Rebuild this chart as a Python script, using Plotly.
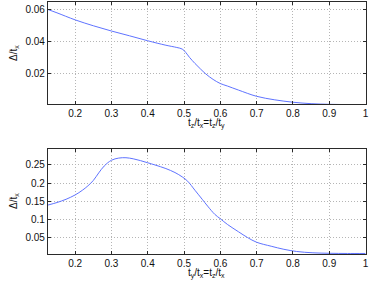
import plotly.graph_objects as go

# Top panel: Delta/t_x vs t_z/t_x = t_z/t_y
x_top = [0.125, 0.15, 0.2, 0.25, 0.3, 0.35, 0.4, 0.45, 0.48, 0.495, 0.505, 0.515, 0.53,
         0.545, 0.56, 0.58, 0.6, 0.62, 0.65, 0.7, 0.75, 0.8, 0.85, 0.9, 0.95, 1.0]
y_top = [0.0600, 0.0579, 0.0535, 0.0498, 0.0465, 0.0435, 0.0404, 0.0376, 0.0362, 0.0352,
         0.0330, 0.0300, 0.0262, 0.0228, 0.0196, 0.0162, 0.0136, 0.0120, 0.0095, 0.0056,
         0.0034, 0.0019, 0.0010, 0.0006, 0.0004, 0.0003]

# Bottom panel: Delta/t_x vs t_y/t_x = t_z/t_x
x_bot = [0.125, 0.15, 0.175, 0.2, 0.22, 0.235, 0.25, 0.265, 0.28, 0.3, 0.32, 0.34, 0.36,
         0.38, 0.4, 0.42, 0.45, 0.475, 0.495, 0.51, 0.53, 0.55, 0.565, 0.585, 0.6, 0.62,
         0.65, 0.675, 0.7, 0.74, 0.775, 0.81, 0.855, 0.9, 0.95, 1.0]
y_bot = [0.139, 0.146, 0.155, 0.167, 0.180, 0.192, 0.207, 0.228, 0.247, 0.263, 0.269,
         0.270, 0.267, 0.262, 0.256, 0.250, 0.240, 0.229, 0.217, 0.205, 0.180, 0.155,
         0.136, 0.113, 0.101, 0.085, 0.065, 0.049, 0.036, 0.025, 0.0165, 0.0105, 0.0068,
         0.0055, 0.0050, 0.0050]

x_ticks = [0.2, 0.3, 0.4, 0.5, 0.6, 0.7, 0.8, 0.9, 1]
x_ticklabels = ["0.2", "0.3", "0.4", "0.5", "0.6", "0.7", "0.8", "0.9", "1"]
y_top_ticks = [0.02, 0.04, 0.06]
y_top_ticklabels = ["0.02", "0.04", "0.06"]
y_bot_ticks = [0.05, 0.1, 0.15, 0.2, 0.25]
y_bot_ticklabels = ["0.05", "0.1", "0.15", "0.2", "0.25"]

line_color = "rgb(95,115,255)"
font_family = "Liberation Sans, Arial, sans-serif"

fig = go.Figure()
fig.add_trace(go.Scatter(x=x_top, y=y_top, mode="lines", line=dict(color=line_color, width=1),
                         xaxis="x", yaxis="y", showlegend=False, line_shape="spline"))
fig.add_trace(go.Scatter(x=x_bot, y=y_bot, mode="lines", line=dict(color=line_color, width=1),
                         xaxis="x2", yaxis="y2", showlegend=False, line_shape="spline"))

common_axis = dict(
    showline=True, linecolor="#2a2a2a", linewidth=1, mirror="ticks",
    ticks="inside", ticklen=3, tickcolor="#2a2a2a",
    showgrid=True, gridcolor="#b5b5b5", griddash="1px,2px", gridwidth=1,
    zeroline=False, tickfont=dict(family=font_family, size=10, color="#111"),
)

x0, x1 = 48.3 / 374, 368.7 / 374
fig.update_layout(
    width=374, height=286,
    margin=dict(l=0, r=0, t=0, b=0),
    paper_bgcolor="white", plot_bgcolor="white",
    font=dict(family=font_family, size=10, color="#111"),
    xaxis=dict(common_axis, domain=[x0, x1], range=[0.125, 1.0005], anchor="y",
               tickvals=x_ticks, ticktext=x_ticklabels),
    yaxis=dict(common_axis, domain=[1 - 104.3 / 286, 1 - 2.3 / 286], range=[0.0006, 0.0645],
               anchor="x", tickvals=y_top_ticks, ticktext=y_top_ticklabels),
    xaxis2=dict(common_axis, domain=[x0, x1], range=[0.125, 1.0005], anchor="y2",
                tickvals=x_ticks, ticktext=x_ticklabels),
    yaxis2=dict(common_axis, domain=[1 - 254 / 286, 1 - 148.7 / 286], range=[0.0035, 0.295],
                anchor="x2", tickvals=y_bot_ticks, ticktext=y_bot_ticklabels),
    annotations=[
        dict(text="t<sub>z</sub>/t<sub>x</sub>=t<sub>z</sub>/t<sub>y</sub>",
             x=(x0 + x1) / 2, y=1 - 115 / 286, xref="paper", yref="paper",
             xanchor="center", yanchor="top", showarrow=False,
             font=dict(family=font_family, size=10, color="#111")),
        dict(text="t<sub>y</sub>/t<sub>x</sub>=t<sub>z</sub>/t<sub>x</sub>",
             x=(x0 + x1) / 2, y=1 - 264.5 / 286, xref="paper", yref="paper",
             xanchor="center", yanchor="top", showarrow=False,
             font=dict(family=font_family, size=10, color="#111")),
        dict(text="Δ/t<sub>x</sub>", x=6 / 374, y=1 - 53 / 286, xref="paper", yref="paper",
             xanchor="left", yanchor="middle", textangle=-90, showarrow=False,
             font=dict(family=font_family, size=10, color="#111")),
        dict(text="Δ/t<sub>x</sub>", x=6 / 374, y=1 - 201 / 286, xref="paper", yref="paper",
             xanchor="left", yanchor="middle", textangle=-90, showarrow=False,
             font=dict(family=font_family, size=10, color="#111")),
    ],
)

fig.write_html("out.html", config={"displayModeBar": False},
               post_script="document.body.style.margin='0';document.body.style.overflow='hidden';")
